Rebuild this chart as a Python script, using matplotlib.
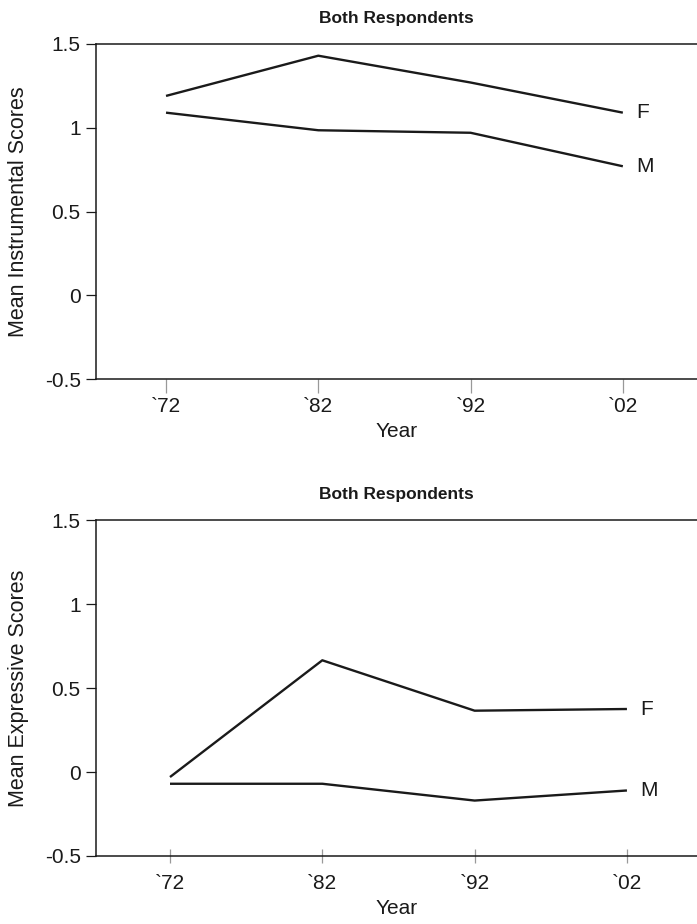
import matplotlib
matplotlib.use("Agg")
import matplotlib.pyplot as plt

plt.rcParams['font.family'] = ['Liberation Sans', 'DejaVu Sans']

# === data ===
years = ["`72", "`82", "`92", "`02"]
instr_f = [1.19, 1.43, 1.27, 1.09]
instr_m = [1.09, 0.985, 0.97, 0.77]
expr_f = [-0.03, 0.665, 0.365, 0.375]
expr_m = [-0.07, -0.07, -0.17, -0.11]

y_ticks = [-0.5, 0, 0.5, 1, 1.5]
y_labels = ["-0.5", "0", "0.5", "1", "1.5"]

ink = '#1a1a1a'
fs = 15

fig = plt.figure(figsize=(6.97, 9.24), dpi=100)
ax1 = fig.add_axes([0.1377, 0.5898, 0.8623, 0.3626])
ax2 = fig.add_axes([0.1377, 0.0736, 0.8623, 0.3636])

panels = [
    (ax1, instr_f, instr_m, 'Mean Instrumental Scores', (-0.46, 3.487), 'out'),
    (ax2, expr_f, expr_m, 'Mean Expressive Scores', (-0.486, 3.46), 'inout'),
]

for ax, f_vals, m_vals, ylab, xl, tdir in panels:
    x = list(range(len(years)))
    ax.plot(x, f_vals, color=ink, lw=1.7, solid_capstyle='butt')
    ax.plot(x, m_vals, color=ink, lw=1.7, solid_capstyle='butt')
    ax.text(x[-1] + 0.09, f_vals[-1], 'F', fontsize=fs, va='center', ha='left', color=ink)
    ax.text(x[-1] + 0.09, m_vals[-1], 'M', fontsize=fs, va='center', ha='left', color=ink)

    ax.set_xlim(*xl)
    ax.set_ylim(-0.5, 1.5)
    ax.set_xticks(x)
    ax.set_xticklabels(years, fontsize=fs, color=ink)
    ax.set_yticks(y_ticks)
    ax.set_yticklabels(y_labels, fontsize=fs, color=ink)
    if tdir == 'out':
        ax.tick_params(axis='x', direction='out', length=10, width=0.9, color='#999999', pad=3)
    else:
        ax.tick_params(axis='x', direction='inout', length=10, width=0.9, color='#999999', pad=8)
    ax.tick_params(axis='y', direction='out', length=7, width=0.9, color=ink, pad=4)

    ax.spines['right'].set_visible(False)
    for s in ['left', 'top', 'bottom']:
        ax.spines[s].set_color(ink)
        ax.spines[s].set_linewidth(1.1)

    ax.set_xlabel('Year', fontsize=fs, color=ink, labelpad=4)
    ax.set_ylabel(ylab, fontsize=15.5, color=ink)
    ax.yaxis.set_label_coords(-0.111, 0.5)
    ax.set_title('Both Respondents', fontsize=12.5, fontweight='bold', color=ink, pad=15)

fig.savefig('out.png', dpi=100)
